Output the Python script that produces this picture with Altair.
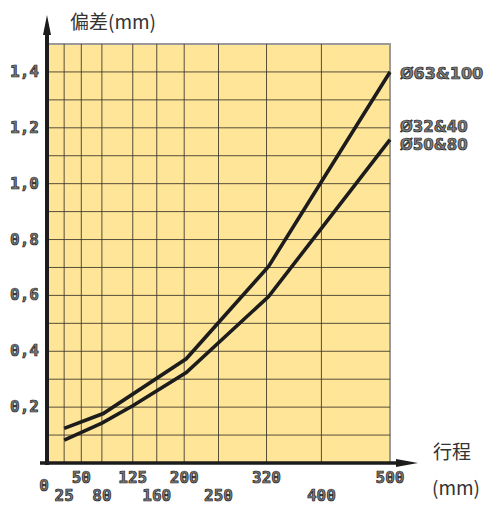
import altair as alt
import pandas as pd

# ---- data ----
upper_mm = [25, 82, 203, 323, 400, 500]
upper_dev = [0.124, 0.177, 0.373, 0.704, 1.007, 1.40]
lower_mm = [25, 80, 125, 203, 323, 400, 500]
lower_dev = [0.082, 0.143, 0.205, 0.324, 0.596, 0.840, 1.158]

x_grid = [25, 50, 80, 125, 160, 200, 250, 320, 400]
y_grid = [0.1, 0.2, 0.3, 0.4, 0.5, 0.6, 0.7, 0.8, 0.9, 1.0, 1.1, 1.2, 1.3, 1.4]
x_row1 = [50, 125, 200, 320, 500]
x_row2 = [25, 80, 160, 250, 400]
x_zero = [0]
y_tick_vals = [0.2, 0.4, 0.6, 0.8, 1.0, 1.2, 1.4]
y_tick_text = ["0,2", "0,4", "0,6", "0,8", "1,0", "1,2", "1,4"]
upper_label = "Ø63&100"
lower_labels = ["Ø32&40", "Ø50&80"]

W, H = 343, 419
BG = "#FEE597"
GRID = "#3a3429"
LABEL_FONT = "DejaVu Sans Mono"
CJK = "Noto Sans CJK SC"

xs = alt.Scale(domain=[0, 500], nice=False, zero=True)
ys = alt.Scale(domain=[0, 1.5], nice=False, zero=True)

lines_df = pd.concat([
    pd.DataFrame({"mm": upper_mm, "dev": upper_dev, "s": "upper"}),
    pd.DataFrame({"mm": lower_mm, "dev": lower_dev, "s": "lower"}),
])

vgrid = alt.Chart(pd.DataFrame({"v": x_grid})).mark_rule(color=GRID, strokeWidth=1, opacity=0.85).encode(
    x=alt.X("v:Q", scale=xs, axis=None), y=alt.value(0), y2=alt.value(H))
hgrid = alt.Chart(pd.DataFrame({"v": y_grid})).mark_rule(color=GRID, strokeWidth=1, opacity=0.85).encode(
    y=alt.Y("v:Q", scale=ys, axis=None), x=alt.value(0), x2=alt.value(W))

curves = alt.Chart(lines_df).mark_line(color="#1c1c1c", strokeWidth=3.6, strokeJoin="miter").encode(
    x=alt.X("mm:Q", scale=xs, axis=None),
    y=alt.Y("dev:Q", scale=ys, axis=None),
    detail="s:N",
)

txt_style = dict(font=LABEL_FONT, fontWeight="bold", fill="#7d7d7d", stroke="#1a1a1a",
                 strokeWidth=0.7, baseline="middle")
ser_style = dict(font="DejaVu Sans", fontWeight="bold", fill="#7d7d7d", stroke="#1a1a1a",
                 strokeWidth=0.7, baseline="middle", fontSize=16, align="left", dx=10)

def xrow(vals, dy, dx=0):
    return alt.Chart(pd.DataFrame({"v": vals, "t": [str(v) for v in vals]})).mark_text(
        fontSize=16, align="center", dy=dy, dx=dx, **txt_style
    ).encode(x=alt.X("v:Q", scale=xs, axis=None),
             y=alt.Y(datum=0, type="quantitative", scale=ys, axis=None), text="t:N")

row1 = xrow(x_row1, 15)
row2 = xrow(x_row2, 33)
row0 = xrow(x_zero, 23, -3)

ylab = alt.Chart(pd.DataFrame({"v": y_tick_vals, "t": y_tick_text})).mark_text(
    fontSize=16, align="right", dx=-8, **txt_style
).encode(x=alt.X(datum=0, type="quantitative", scale=xs, axis=None),
         y=alt.Y("v:Q", scale=ys, axis=None), text="t:N")

def serlab(xv, yv, t, dy, fs=16):
    st = dict(ser_style)
    st["fontSize"] = fs
    return alt.Chart(pd.DataFrame({"v": [xv], "d": [yv], "t": [t]})).mark_text(
        dy=dy, **st
    ).encode(x=alt.X("v:Q", scale=xs, axis=None), y=alt.Y("d:Q", scale=ys, axis=None), text="t:N")

lab_up = serlab(upper_mm[-1], upper_dev[-1], upper_label, 2)
lab_lo1 = serlab(lower_mm[-1], lower_dev[-1], lower_labels[0], -13, 15)
lab_lo2 = serlab(lower_mm[-1], lower_dev[-1], lower_labels[1], 5, 15)

# axis lines with arrows
x_axis_line = alt.Chart().mark_rule(color="#1c1c1c", strokeWidth=3.5).encode(
    x=alt.value(-7), x2=alt.value(356), y=alt.value(H))
y_axis_line = alt.Chart().mark_rule(color="#1c1c1c", strokeWidth=4).encode(
    x=alt.value(0), y=alt.value(H + 2), y2=alt.value(-14))
x_arrow = alt.Chart().mark_point(shape="M-1,-0.36L1,0L-1,0.36Z", filled=True, size=484,
                                 color="#1c1c1c", opacity=1).encode(
    x=alt.value(360), y=alt.value(H))
y_arrow = alt.Chart().mark_point(shape="M-0.4,1L0,-1L0.4,1Z", filled=True, size=400,
                                 color="#1c1c1c", opacity=1).encode(
    x=alt.value(0), y=alt.value(-19))

cjk_style = dict(font=CJK, fontSize=19, color="#333333", align="left", baseline="middle")
t_y = alt.Chart().mark_text(text="偏差(mm)", **cjk_style).encode(x=alt.value(23), y=alt.value(-21))
t_x1 = alt.Chart().mark_text(text="行程", **cjk_style).encode(x=alt.value(386), y=alt.value(409))
t_x2 = alt.Chart().mark_text(text="(mm)", **cjk_style).encode(x=alt.value(385), y=alt.value(445))

chart = alt.layer(
    vgrid, hgrid, curves, x_axis_line, y_axis_line, x_arrow, y_arrow,
    row1, row2, row0, ylab, lab_up, lab_lo1, lab_lo2, t_y, t_x1, t_x2,
).properties(
    width=W, height=H,
    autosize=alt.AutoSizeParams(type="none"),
    padding={"left": 39, "top": 36, "right": 99, "bottom": 45},
    background="white",
).configure_view(
    fill=BG, stroke="#9a9a9a", strokeWidth=2,
)

chart.save("out.html", embed_options={"renderer": "svg", "actions": False})
